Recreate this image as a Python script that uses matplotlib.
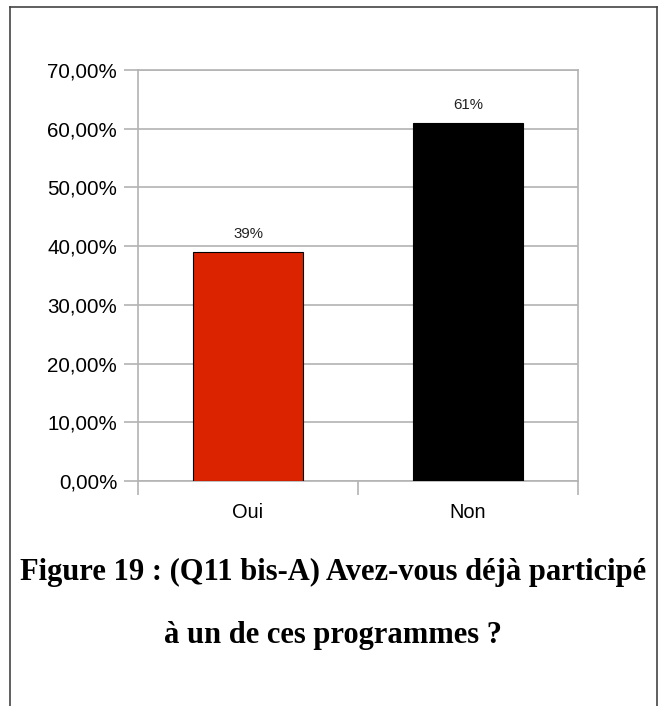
import matplotlib.pyplot as plt
from matplotlib.lines import Line2D
from matplotlib.ticker import FuncFormatter

categories = ['Oui', 'Non']
values = [0.39, 0.61]
bar_labels = ['39%', '61%']
bar_colors = ['#dc2300', '#000000']
title_lines = ['Figure 19 : (Q11 bis-A) Avez-vous déjà participé',
               'à un de ces programmes ?']

W, H = 666, 706
fig = plt.figure(figsize=(W / 100, H / 100), dpi=100)
plt.rcParams['font.family'] = ['Liberation Sans', 'DejaVu Sans']

# axes in pixel coords: left 138, right 578, top 70, bottom 481
ax = fig.add_axes([138 / W, 1 - 481 / H, (578 - 138) / W, (481 - 70) / H])

x = range(len(categories))
bars = ax.bar(x, values, width=0.5, color=bar_colors, edgecolor='black',
              linewidth=0.8, zorder=3)
for b, lab in zip(bars, bar_labels):
    ax.annotate(lab, (b.get_x() + b.get_width() / 2, b.get_height()),
                xytext=(0, 13), textcoords='offset points', ha='center',
                va='center', fontsize=10.8, color='#222222')

ax.set_xlim(-0.5, 1.5)
ax.set_ylim(0, 0.7)
ax.set_yticks([i / 10 for i in range(8)])
ax.yaxis.set_major_formatter(FuncFormatter(lambda v, p: f'{v * 100:.2f}'.replace('.', ',') + '%'))
ax.set_xticks([-0.5, 0.5, 1.5], minor=False)
ax.set_xticklabels([])
ax.set_xticks(list(x), minor=True)
ax.set_xticklabels(categories, minor=True)
ax.tick_params(axis='x', which='minor', length=0, pad=16, labelsize=14.4)
ax.tick_params(axis='x', which='major', length=10, color='#b3b3b3', width=1.2)
ax.tick_params(axis='y', length=10, color='#b3b3b3', width=1.2, pad=5,
               labelsize=14.8)
ax.grid(axis='y', color='#b3b3b3', linewidth=1.2, zorder=0)
for s in ax.spines.values():
    s.set_color('#b3b3b3')
    s.set_linewidth(1.2)

fig.text(0.5, 1 - 580 / H, title_lines[0], ha='center', va='baseline',
         family='Liberation Serif', weight='bold', fontsize=22)
fig.text(0.5, 1 - 643 / H, title_lines[1], ha='center', va='baseline',
         family='Liberation Serif', weight='bold', fontsize=22)

# frame around the figure (no bottom edge)
for xs, ys in [([10, 10], [7, 706]), ([10, 657], [7, 7]), ([657, 657], [7, 706])]:
    fig.add_artist(Line2D([v / W for v in xs], [1 - v / H for v in ys],
                          color='#444444', linewidth=1.2))

fig.savefig('out.png', dpi=100)
